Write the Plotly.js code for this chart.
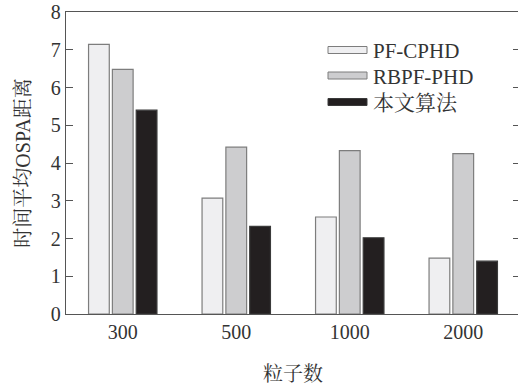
<!DOCTYPE html>
<html>
<head>
<meta charset="utf-8">
<script src="https://cdn.plot.ly/plotly-3.0.1.min.js"></script>
<style>
html,body{margin:0;padding:0;overflow:hidden;background:#fff;}
#chart{width:530px;height:385px;}
</style>
</head>
<body>
<div id="chart"></div>
<script>
const categories = ['300', '500', '1000', '2000'];
const seriesNames = ['PF-CPHD', 'RBPF-PHD', '本文算法'];
const pfCphd = [7.14, 3.07, 2.57, 1.48];
const rbpfPhd = [6.48, 4.42, 4.33, 4.25];
const ours = [5.40, 2.32, 2.02, 1.40];
const yTicks = [0, 1, 2, 3, 4, 5, 6, 7, 8];

const colors = ['#efeff1', '#cdcdcf', '#231f20'];
const lineColors = ['#7d7d7d', '#7d7d7d', '#3a3a3a'];
const fontFam = '"Liberation Serif", "Noto Serif CJK SC", "Noto Sans CJK SC", serif';

const W = 530, H = 385;
const M = {l: 66, r: 10, t: 12, b: 71};
const pw = W - M.l - M.r, ph = H - M.t - M.b;
const px = x => (x - M.l) / pw;
const py = y => (H - M.b - y) / ph;

const seriesValues = [pfCphd, rbpfPhd, ours];
const traces = seriesValues.map((vals, i) => ({
  type: 'bar',
  name: seriesNames[i],
  x: categories,
  y: vals,
  marker: {color: colors[i], line: {color: lineColors[i], width: 1.2}},
  hoverinfo: 'x+y+name'
}));

// custom legend (wide swatches)
const legendRows = [50, 75.5, 102];
const shapes = [];
const annotations = [];
legendRows.forEach((cy, i) => {
  shapes.push({
    type: 'rect', xref: 'paper', yref: 'paper',
    x0: px(328), x1: px(367), y0: py(cy - 3.5), y1: py(cy + 3.5),
    fillcolor: colors[i], line: {color: lineColors[i], width: 1}
  });
  annotations.push({
    xref: 'paper', yref: 'paper', x: px(371), y: py(cy + 1),
    xanchor: 'left', yanchor: 'middle', showarrow: false,
    text: seriesNames[i], font: {family: fontFam, size: 21, color: '#333'}
  });
});

const layout = {
  width: W, height: H,
  margin: M,
  showlegend: false,
  paper_bgcolor: '#fff', plot_bgcolor: '#fff',
  barmode: 'group',
  bargap: 0.37,
  bargroupgap: 0.13,
  font: {family: fontFam, size: 20, color: '#333'},
  xaxis: {
    type: 'category',
    range: [-0.5, 3.5],
    showline: true, linecolor: '#555', linewidth: 1.2,
    mirror: true, ticks: '', showgrid: false, zeroline: false,
    tickfont: {family: fontFam, size: 20, color: '#333'},
    ticklabelstandoff: 0,
    title: {text: '粒子数', font: {family: fontFam, size: 20, color: '#333'}, standoff: 24}
  },
  yaxis: {
    range: [0, 8],
    tickvals: yTicks,
    showline: true, linecolor: '#555', linewidth: 1.2,
    mirror: 'ticks', ticks: 'inside', ticklen: 7, tickcolor: '#555',
    showgrid: false, zeroline: false,
    tickfont: {family: fontFam, size: 20, color: '#333'},
    title: {text: '时间平均OSPA距离', font: {family: fontFam, size: 20, color: '#333'}, standoff: 14}
  },
  shapes: shapes,
  annotations: annotations
};

Plotly.newPlot('chart', traces, layout, {displayModeBar: false, staticPlot: true});
</script>
</body>
</html>
